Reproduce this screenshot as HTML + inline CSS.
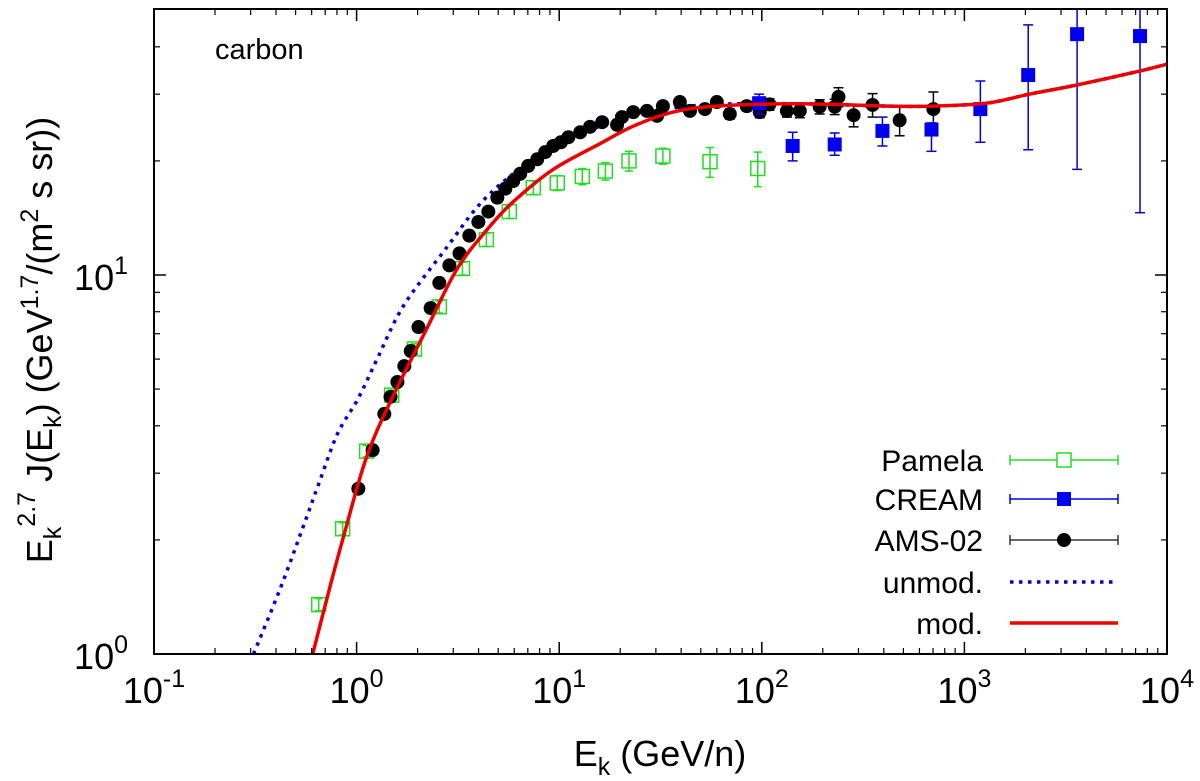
<!DOCTYPE html>
<html><head><meta charset="utf-8"><style>
body{margin:0;background:#fff;}
svg{display:block;font-family:"Liberation Sans",Arial,sans-serif;}
</style></head><body>
<svg id="chart" width="1200" height="781" viewBox="0 0 1200 781" xmlns="http://www.w3.org/2000/svg">
<g id="plot"></g>
<rect x="154" y="9" width="1013" height="645" fill="none" stroke="#000" stroke-width="2"/>
<g id="ticks"></g>
<text x="215" y="59" font-size="29">carbon</text>
<text x="660" y="766" font-size="36" text-anchor="middle">E<tspan font-size="25" dy="9">k</tspan><tspan dy="-9"> (GeV/n)</tspan></text>
<text transform="translate(52,340) rotate(-90)" font-size="36" text-anchor="middle">E<tspan font-size="25" dy="9">k</tspan><tspan font-size="25" dy="-26">2.7</tspan><tspan dy="17"> J(E</tspan><tspan font-size="25" dy="9">k</tspan><tspan dy="-9">) (GeV</tspan><tspan font-size="25" dy="-14">1.7</tspan><tspan dy="14">/(m</tspan><tspan font-size="25" dy="-14">2</tspan><tspan dy="14"> s sr))</tspan></text>
<g id="legend"></g>
</svg>
<script>
// ---- data ----
const pamelaE=[0.65,0.853,1.12,1.49,1.93,2.56,3.33,4.37,5.67,7.45,9.78,13.0,16.9,22.1,32.5,55.5,95.5];
const pamelaJ=[1.35,2.14,3.43,4.82,6.38,8.24,10.4,12.4,14.7,17.0,17.5,18.2,18.8,20.0,20.6,19.9,19.1];
const pamelaErr=[0.05,0.08,0.12,0.15,0.2,0.3,0.4,0.5,0.6,0.7,0.8,0.9,1.0,1.2,1.0,1.8,2.0];
const creamE=[97,142,229,394,688,1199,2065,3600,7360];
const creamJ=[28.4,21.9,22.1,24.0,24.2,27.4,33.7,43.2,42.7];
const creamLo=[26.6,20.0,20.7,21.9,21.2,22.4,21.4,19.0,14.6];
const creamHi=[30.0,23.8,23.7,26.1,25.2,32.5,45.7,70,70];
const amsE=[1.02,1.20,1.37,1.47,1.59,1.72,1.85,2.02,2.32,2.56,2.87,3.22,3.60,3.99,4.47,4.95,5.42,5.93,6.42,7.03,7.79,8.53,9.34,10.2,11.1,12.7,14.2,16.3,19.3,20.4,23.2,27.1,30.4,32.5,39.4,44.2,52.4,60,69.5,84.3,97.7,109,133,154,193,229,239,284,352,479,703];
const amsJ=[2.73,3.45,4.30,4.77,5.22,5.75,6.30,7.29,8.18,9.53,10.6,11.4,12.7,13.8,14.7,16.0,16.9,17.7,18.5,19.4,20.2,21.1,21.9,22.4,23.1,23.8,24.6,25.3,24.9,26.1,26.9,27.1,26.3,27.9,28.6,27.1,27.4,28.6,26.6,27.9,26.9,28.2,27.1,27.1,27.8,27.8,29.5,26.4,28.1,25.6,27.4];
const amsErr=[0.05,0.06,0.07,0.08,0.09,0.1,0.1,0.1,0.12,0.14,0.15,0.16,0.18,0.2,0.2,0.2,0.2,0.2,0.2,0.2,0.2,0.2,0.2,0.2,0.3,0.3,0.3,0.3,0.3,0.4,0.4,0.4,0.4,0.5,0.5,0.6,0.6,0.7,0.8,0.8,0.9,1.0,1.0,1.1,1.2,1.3,1.7,1.8,2.0,2.3,3.0];
const unmodE=[0.31,0.42,0.542,0.65,0.805,1.02,1.27,1.71,2.81,3.77,4.73,5.93,8.06,10.9,15.9,23.2,40.8,72,154,413,695,1283,2089,3565,7280,10000];
const unmodJ=[1.0,1.49,2.15,2.81,3.81,4.73,6.04,8.32,11.9,14.7,16.7,18.5,20.9,22.8,24.7,26.6,27.8,28.3,28.3,27.9,27.9,28.4,30.0,31.7,34.5,36.0];
const modE=[0.607,0.745,0.883,1.12,1.49,2.24,3.14,4.42,5.93,9.34,15.9,23.2,36.5,60,154,413,695,1283,2089,3565,7280,10000];
const modJ=[1.0,1.53,2.14,3.31,4.71,7.29,10.4,13.2,15.6,19.0,22.2,24.7,26.9,27.9,28.3,27.9,27.9,28.4,30.0,31.7,34.5,36.0];
const xTicks=[-1,0,1,2,3,4];
const yTicks=[0,1];

// ---- axes ----
const X0=154,X1=1167,Y0=654,Y1=9;
const xs=e=>X0+(Math.log10(e)+1)/5*(X1-X0);
const ys=v=>Y0-379*Math.log10(v);
const NS="http://www.w3.org/2000/svg";
function mk(tag,attrs,parent){const el=document.createElementNS(NS,tag);for(const k in attrs)el.setAttribute(k,attrs[k]);parent.appendChild(el);return el;}
const plot=document.getElementById('plot'),ticks=document.getElementById('ticks'),leg=document.getElementById('legend');
const cp=mk('clipPath',{id:'clip'},plot);
mk('rect',{x:X0,y:Y1,width:X1-X0,height:Y0-Y1},cp);
const g=mk('g',{'clip-path':'url(#clip)'},plot);

// ticks
for(const d of xTicks){
  const x=xs(Math.pow(10,d));
  mk('line',{x1:x,y1:Y0,x2:x,y2:Y0-12,stroke:'#000','stroke-width':1.5},ticks);
  mk('line',{x1:x,y1:Y1,x2:x,y2:Y1+12,stroke:'#000','stroke-width':1.5},ticks);
  const lab=mk('text',{x:x,y:703,'font-size':36,'text-anchor':'middle'},ticks);
  
  
  lab.innerHTML='10<tspan font-size="25" dy="-16">'+d+'</tspan>';
  if(d<4)for(let m=2;m<10;m++){const xm=xs(m*Math.pow(10,d));
    mk('line',{x1:xm,y1:Y0,x2:xm,y2:Y0-6,stroke:'#000','stroke-width':1.2},ticks);
    mk('line',{x1:xm,y1:Y1,x2:xm,y2:Y1+6,stroke:'#000','stroke-width':1.2},ticks);}
}
for(const d of yTicks){
  const y=ys(Math.pow(10,d));
  mk('line',{x1:X0,y1:y,x2:X0+12,y2:y,stroke:'#000','stroke-width':1.5},ticks);
  mk('line',{x1:X1,y1:y,x2:X1-12,y2:y,stroke:'#000','stroke-width':1.5},ticks);
  const lab=mk('text',{x:128,y:y+15,'font-size':36,'text-anchor':'end'},ticks);
  
  
  lab.innerHTML='10<tspan font-size="25" dy="-16">'+d+'</tspan>';
}
for(const v of [2,3,4,5,6,7,8,9,20,30,40]){const y=ys(v);if(y<Y1)continue;
  mk('line',{x1:X0,y1:y,x2:X0+6,y2:y,stroke:'#000','stroke-width':1.2},ticks);
  mk('line',{x1:X1,y1:y,x2:X1-6,y2:y,stroke:'#000','stroke-width':1.2},ticks);}

// smooth curves (Catmull-Rom through the read points)
function pathOf(E,J){
  const P=E.map((e,i)=>[xs(e),ys(J[i])]);
  let d='M'+P[0][0].toFixed(1)+','+P[0][1].toFixed(1);
  for(let i=0;i<P.length-1;i++){
    const p0=P[Math.max(0,i-1)],p1=P[i],p2=P[i+1],p3=P[Math.min(P.length-1,i+2)];
    const c1=[p1[0]+(p2[0]-p0[0])/6,p1[1]+(p2[1]-p0[1])/6];
    const c2=[p2[0]-(p3[0]-p1[0])/6,p2[1]-(p3[1]-p1[1])/6];
    d+='C'+c1[0].toFixed(1)+','+c1[1].toFixed(1)+' '+c2[0].toFixed(1)+','+c2[1].toFixed(1)+' '+p2[0].toFixed(1)+','+p2[1].toFixed(1);
  }
  return d;
}
const un=mk('path',{d:pathOf(unmodE,unmodJ),fill:'none',stroke:'#0000dd','stroke-width':3.5,'stroke-dasharray':'3.5,5.5'},g);



// pamela
pamelaE.forEach((e,i)=>{const x=xs(e),y=ys(pamelaJ[i]),lo=ys(pamelaJ[i]-pamelaErr[i]),hi=ys(pamelaJ[i]+pamelaErr[i]);
  const p=mk('g',{stroke:'#22dd22','stroke-width':1.5,fill:'none'},g);
  
  
  mk('line',{x1:x,y1:lo,x2:x,y2:hi},p);mk('line',{x1:x-4,y1:lo,x2:x+4,y2:lo},p);mk('line',{x1:x-4,y1:hi,x2:x+4,y2:hi},p);
  mk('rect',{x:x-7,y:y-7,width:14,height:14},p);});
// ams
amsE.forEach((e,i)=>{const x=xs(e),y=ys(amsJ[i]),lo=ys(amsJ[i]-amsErr[i]),hi=ys(amsJ[i]+amsErr[i]);
  const p=mk('g',{stroke:'#000','stroke-width':1.5},g);
  
  
  mk('line',{x1:x,y1:lo,x2:x,y2:hi},p);mk('line',{x1:x-5,y1:lo,x2:x+5,y2:lo},p);mk('line',{x1:x-5,y1:hi,x2:x+5,y2:hi},p);
  mk('circle',{cx:x,cy:y,r:7,fill:'#000',stroke:'none'},p);});
// cream
creamE.forEach((e,i)=>{const x=xs(e),y=ys(creamJ[i]),lo=ys(creamLo[i]),hi=ys(creamHi[i]);
  const p=mk('g',{stroke:'#0000dd','stroke-width':1.5},g);
  
  
  mk('line',{x1:x,y1:lo,x2:x,y2:hi},p);mk('line',{x1:x-5,y1:lo,x2:x+5,y2:lo},p);mk('line',{x1:x-5,y1:hi,x2:x+5,y2:hi},p);
  mk('rect',{x:x-7,y:y-7,width:14,height:14,fill:'#0000ee',stroke:'none'},p);});
const md=mk('path',{d:pathOf(modE,modJ),fill:'none',stroke:'#ee0000','stroke-width':3.5},g);



// legend
const legNames=['Pamela','CREAM','AMS-02','unmod.','mod.'];
const legY=[460,499,540,582,623];
legNames.forEach((n,i)=>{const y=legY[i];
  const e=mk('g',{},leg);
  
  
  const t=mk('text',{x:983,y:y+11,'font-size':30,'text-anchor':'end'},e);t.textContent=n;
  if(i<3){const c=['#22dd22','#0000dd','#333'][i];
    mk('line',{x1:1010,y1:y,x2:1118,y2:y,stroke:c,'stroke-width':1.5},e);
    mk('line',{x1:1010,y1:y-5,x2:1010,y2:y+5,stroke:c,'stroke-width':1.5},e);
    mk('line',{x1:1118,y1:y-5,x2:1118,y2:y+5,stroke:c,'stroke-width':1.5},e);
    if(i==0)mk('rect',{x:1057,y:y-7,width:14,height:14,fill:'#fff',stroke:c,'stroke-width':1.5},e);
    if(i==1)mk('rect',{x:1057,y:y-7,width:14,height:14,fill:'#0000ee'},e);
    if(i==2)mk('circle',{cx:1064,cy:y,r:7,fill:'#000'},e);
  }else if(i==3){mk('line',{x1:1010,y1:y,x2:1118,y2:y,stroke:'#0000dd','stroke-width':3.5,'stroke-dasharray':'3.5,5.5'},e);}
  else{mk('line',{x1:1010,y1:y,x2:1118,y2:y,stroke:'#ee0000','stroke-width':3.5},e);}
});
</script>
</body></html>
